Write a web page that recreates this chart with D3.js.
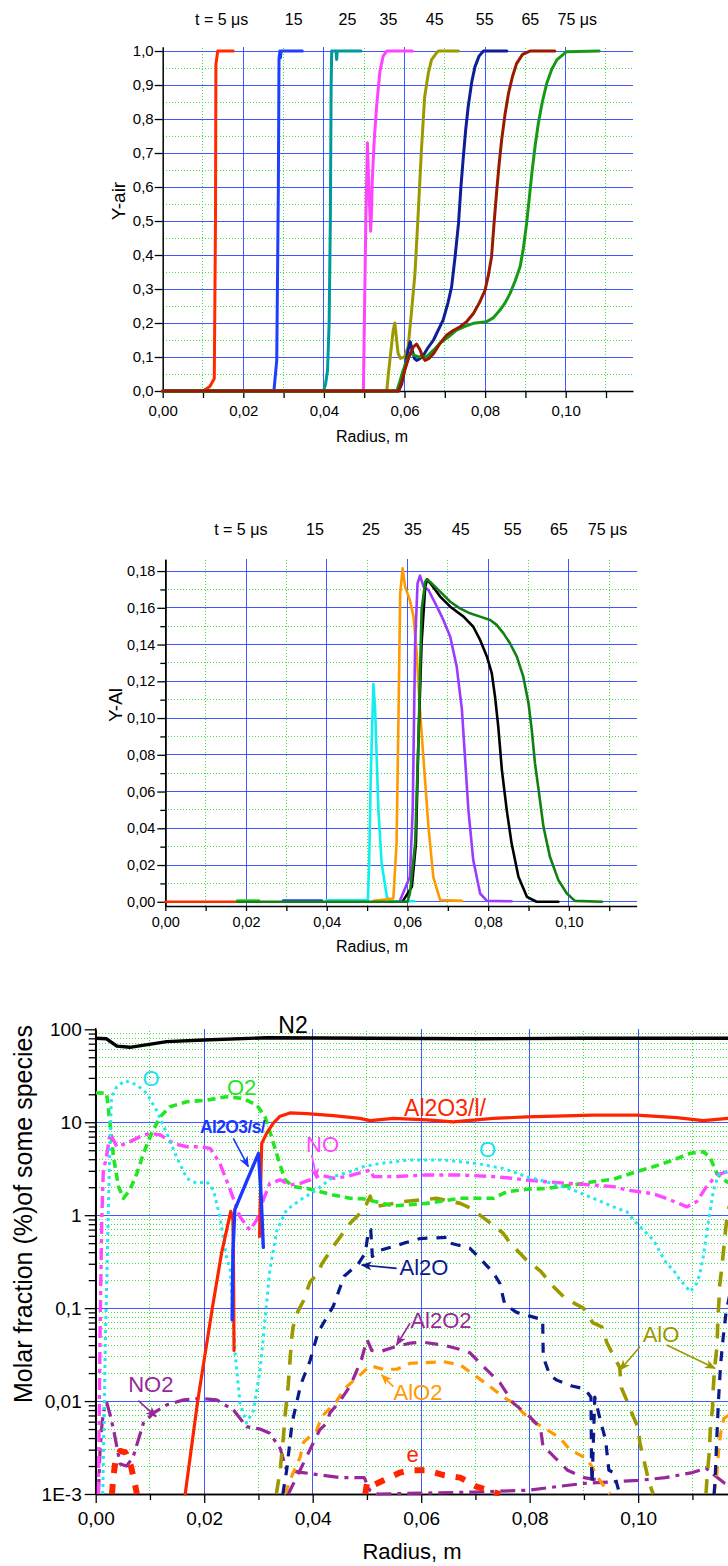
<!DOCTYPE html>
<html>
<head>
<meta charset="utf-8">
<script src="https://cdn.jsdelivr.net/npm/d3@7"></script>
<style>
  html, body { margin: 0; padding: 0; background: #fff; }
  svg { display: block; }
  text { font-family: "Liberation Sans", Arial, Helvetica, sans-serif; }
</style>
</head>
<body>
<script>
// ---------------- data: Y-air profiles at successive instants ----------------
const timeLabels = ["t = 5 μs", "15", "25", "35", "45", "55", "65", "75 μs"];

const air05 = [[0,0],[0.0100,0],[0.0117,0.013],[0.0128,0.037],[0.0131,0.5],[0.0132,0.96],[0.01365,1.0],[0.0175,1.0]];
const air15 = [[0,0],[0.0276,0],[0.0283,0.091],[0.0287,0.6],[0.02886,0.978],[0.0291,1.0],[0.0292,0.98],[0.0294,1.0],[0.03465,1.0]];
const air25 = [[0,0],[0.0399,0],[0.0404,0.02],[0.0409,0.06],[0.0413,0.2],[0.0416,0.5],[0.0418,0.9],[0.04193,1.0],[0.0430,1.0],[0.04317,0.975],[0.0433,1.0],[0.0492,1.0]];
const air35 = [[0,0],[0.0498,0],[0.0500,0.17],[0.0504,0.5],[0.0508,0.73],[0.0512,0.58],[0.0516,0.47],[0.0518,0.52],[0.0520,0.62],[0.0525,0.74],[0.0531,0.84],[0.0539,0.94],[0.0547,0.985],[0.0556,1.0],[0.0620,1.0]];
const air45 = [[0,0],[0.0556,0],[0.0560,0.05],[0.0572,0.179],[0.0576,0.2],[0.0584,0.111],[0.0590,0.096],[0.0600,0.1],[0.0609,0.13],[0.0617,0.228],[0.0626,0.346],[0.0634,0.522],[0.0642,0.708],[0.0650,0.865],[0.0659,0.934],[0.0667,0.974],[0.0680,0.995],[0.0684,1.0],[0.0734,1.0]];
const air55 = [[0,0],[0.0585,0],[0.0593,0.02],[0.0601,0.071],[0.0609,0.12],[0.0614,0.145],[0.0619,0.12],[0.0625,0.095],[0.0630,0.09],[0.0638,0.095],[0.0647,0.105],[0.0657,0.125],[0.0672,0.15],[0.0684,0.18],[0.0696,0.209],[0.0708,0.26],[0.0717,0.307],[0.0726,0.4],[0.0734,0.493],[0.0740,0.6],[0.0746,0.689],[0.0752,0.77],[0.0758,0.836],[0.0767,0.91],[0.0775,0.954],[0.0785,0.985],[0.0796,1.0],[0.0854,1.0]];
const air65 = [[0,0],[0.0585,0],[0.0594,0.03],[0.0601,0.062],[0.0611,0.1],[0.0622,0.13],[0.0630,0.138],[0.0639,0.12],[0.0645,0.1],[0.0651,0.09],[0.0660,0.095],[0.0672,0.11],[0.0688,0.14],[0.0705,0.165],[0.0721,0.178],[0.0738,0.189],[0.0755,0.205],[0.0771,0.228],[0.0786,0.26],[0.0800,0.297],[0.0808,0.34],[0.0816,0.395],[0.0822,0.49],[0.0829,0.591],[0.0835,0.67],[0.0841,0.738],[0.0849,0.81],[0.0858,0.875],[0.0868,0.925],[0.0878,0.963],[0.0893,0.99],[0.0911,1.0],[0.0973,1.0]];
const air75 = [[0,0],[0.0581,0],[0.0589,0.03],[0.0597,0.062],[0.0606,0.09],[0.0614,0.111],[0.0625,0.105],[0.0634,0.101],[0.0655,0.101],[0.0672,0.12],[0.0688,0.14],[0.0710,0.16],[0.0729,0.179],[0.0750,0.19],[0.0771,0.199],[0.0804,0.204],[0.0820,0.215],[0.0837,0.238],[0.0850,0.26],[0.0862,0.287],[0.0875,0.325],[0.0887,0.366],[0.0895,0.42],[0.0903,0.493],[0.0909,0.56],[0.0916,0.64],[0.0924,0.72],[0.0932,0.787],[0.0942,0.85],[0.0953,0.905],[0.0965,0.945],[0.0978,0.974],[0.1002,0.998],[0.1083,1.0]];

// ---------------- data: Y-Al profiles ----------------
const al05 = [[0,0],[0.0178,0]];
const al15 = [[0.0178,0.0007],[0.0232,0.0007]];
const al25 = [[0.0292,0.0007],[0.0388,0.0007]];
const al35 = [[0.0400,0.0008],[0.0502,0.0008],[0.0505,0.02],[0.0509,0.068],[0.05156,0.1185],[0.0520,0.104],[0.0528,0.05],[0.0536,0.021],[0.0549,0.0027],[0.0557,0.0003],[0.0617,0.0003]];
const al45 = [[0.0516,0.0005],[0.0565,0.0018],[0.0573,0.0318],[0.0578,0.1044],[0.0582,0.1679],[0.0588,0.1815],[0.0594,0.1715],[0.0606,0.1642],[0.0615,0.1552],[0.0623,0.1352],[0.0631,0.1044],[0.0640,0.0771],[0.0652,0.0408],[0.0664,0.0136],[0.0681,0.0009],[0.0735,0.0005]];
const al55 = [[0.0582,0.0009],[0.0606,0.0136],[0.0613,0.0499],[0.0619,0.1406],[0.0625,0.1733],[0.0631,0.1775],[0.0640,0.1715],[0.0652,0.1697],[0.0673,0.1606],[0.0689,0.1534],[0.0706,0.1443],[0.0722,0.128],[0.0735,0.1044],[0.0743,0.0771],[0.0751,0.0499],[0.0763,0.0227],[0.0780,0.0045],[0.0797,0.0005],[0.0858,0.0003]];
const al65 = [[0.0590,0.0009],[0.0611,0.0082],[0.0621,0.0318],[0.0627,0.0862],[0.0635,0.1407],[0.0644,0.1715],[0.0649,0.1755],[0.0660,0.1724],[0.0681,0.1661],[0.0706,0.1606],[0.0739,0.1552],[0.0763,0.1497],[0.0780,0.1425],[0.0797,0.1334],[0.0809,0.1243],[0.0817,0.1116],[0.0825,0.0953],[0.0834,0.0717],[0.0846,0.0499],[0.0858,0.0318],[0.0875,0.0136],[0.0896,0.0027],[0.0920,0],[0.0974,0]];
const al75 = [[0.0178,0],[0.0600,0],[0.0606,0.0045],[0.0619,0.0318],[0.0627,0.0862],[0.0635,0.1588],[0.0644,0.1742],[0.0648,0.1755],[0.0660,0.1733],[0.0681,0.1688],[0.0706,0.1633],[0.0730,0.1597],[0.0755,0.157],[0.0780,0.1552],[0.0805,0.1534],[0.0821,0.1507],[0.0838,0.1461],[0.0854,0.1407],[0.0871,0.1334],[0.0887,0.1225],[0.0900,0.108],[0.0908,0.0935],[0.0916,0.0753],[0.0925,0.0608],[0.0937,0.0408],[0.0953,0.0245],[0.0974,0.0118],[0.0995,0.0045],[0.1015,0.0005],[0.1082,0]];

// ---------------- data: molar fractions (%) at 75 μs ----------------
const molN2 = [[0,80],[0.002,79],[0.0039,66],[0.0063,64],[0.0131,73.6],[0.0199,76.8],[0.0315,81],[0.0506,80],[0.0700,79],[0.0900,80],[0.1175,80]];
const molAl2O3l = [[0.0165,0.001],[0.0188,0.01],[0.0215,0.1],[0.0232,0.39],[0.0249,1.1],[0.0253,0.9],[0.0254,0.3],[0.0255,0.035],null,
  [0.0302,0.59],[0.0304,2.0],[0.0306,5.9],[0.0315,7.6],[0.0327,9.7],[0.0339,11.5],[0.0358,12.6],[0.0389,12.4],[0.0438,11.8],[0.0487,11.0],[0.0506,10.4],[0.0549,11.0],[0.0610,10.6],[0.0659,10.1],[0.0733,11.0],[0.0794,11.4],[0.0917,11.9],[0.0997,11.9],[0.1071,11.2],[0.1120,10.4],[0.1165,11.0],[0.1175,11.0]];
const molAl2O3s = [[0.02515,0.075],[0.0253,0.4],[0.02565,1.15],[0.0278,2.3],[0.0300,4.6],[0.0305,1.6],[0.0309,0.45]];
const molO = [[0.0013,0.001],[0.0016,0.01],[0.0018,0.05],[0.0020,0.157],[0.0025,3],[0.0029,18.8],[0.0039,24.1],[0.0054,28],[0.0076,25.2],[0.0094,20.5],[0.0112,13.5],[0.0131,7.6],[0.0149,4.26],[0.0168,2.49],[0.0186,2.2],[0.0205,2.29],[0.0217,1.87],[0.0229,0.96],[0.0241,0.357],[0.0248,0.257],[0.0257,0.0327],[0.0266,0.0095],[0.0278,0.0058],[0.0291,0.008],[0.0303,0.0216],[0.0312,0.0745],[0.0321,0.257],[0.0334,0.69],[0.0352,1.14],[0.0377,1.46],[0.0407,1.87],[0.0438,2.6],[0.0469,2.94],[0.0493,3.32],[0.0524,3.6],[0.0579,3.93],[0.0641,3.93],[0.0702,3.6],[0.0751,3.19],[0.0794,2.6],[0.0831,2.29],[0.0880,1.87],[0.0917,1.52],[0.0954,1.23],[0.0979,1.09],[0.0997,0.818],[0.1028,0.54],[0.1052,0.303],[0.1065,0.257],[0.1077,0.2],[0.1083,0.185],[0.1096,0.15],[0.1108,0.185],[0.1114,0.237],[0.1120,0.357],[0.1129,0.818],[0.1139,1.87],[0.1148,2.71],[0.1163,2.94],[0.1175,3.0]];
const molO2 = [[0,20.8],[0.002,20.5],[0.00265,9.74],[0.00327,4.26],[0.0042,2.03],[0.0051,1.52],[0.0063,1.87],[0.0076,2.82],[0.0088,4.63],[0.0103,7.6],[0.0119,11.5],[0.0137,14.7],[0.0168,16.6],[0.0205,17.3],[0.0241,18.8],[0.0272,18.0],[0.0297,15.3],[0.0312,11.5],[0.0324,7.0],[0.0337,3.93],[0.0349,2.39],[0.0364,2.03],[0.0389,1.94],[0.0414,1.79],[0.0438,1.65],[0.0469,1.52],[0.0493,1.5],[0.0549,1.26],[0.0610,1.34],[0.0672,1.52],[0.0733,1.52],[0.0758,1.79],[0.0794,1.9],[0.0831,1.94],[0.0880,2.11],[0.0917,2.29],[0.0954,2.43],[0.0997,2.94],[0.1028,3.32],[0.1065,3.93],[0.1096,4.63],[0.1120,4.82],[0.1132,4.26],[0.1145,2.82],[0.1163,2.29],[0.1175,2.2]];
const molNO = [[0.0005,0.001],[0.0008,0.05],[0.0011,0.8],[0.0014,3],[0.0020,4.26],[0.00265,7.6],[0.0039,5.45],[0.0057,5.93],[0.0082,7.0],[0.0100,7.6],[0.0119,7.3],[0.0143,5.93],[0.0168,5.45],[0.0192,5.45],[0.0211,5.24],[0.0229,3.6],[0.0248,1.87],[0.0266,0.96],[0.0284,0.69],[0.0297,0.89],[0.0309,1.46],[0.0321,2.2],[0.0340,2.4],[0.0358,2.11],[0.0377,2.2],[0.0395,2.4],[0.0414,2.71],[0.0438,2.5],[0.0463,2.6],[0.0506,3.06],[0.0512,2.6],[0.0549,2.6],[0.0610,2.71],[0.0672,2.71],[0.0733,2.6],[0.0770,2.49],[0.0794,2.39],[0.0831,2.29],[0.0868,2.2],[0.0917,2.11],[0.0954,2.03],[0.0978,1.87],[0.1028,1.7],[0.1059,1.46],[0.1090,1.23],[0.1108,1.4],[0.1126,2.03],[0.1145,2.71],[0.1165,2.94],[0.1175,3.0]];
const molNO2 = [[0.0005,0.001],[0.0008,0.003],[0.0012,0.006],[0.0016,0.0085],[0.0020,0.0098],[0.0027,0.007],[0.0033,0.0049],[0.0045,0.0021],[0.0057,0.002],[0.0069,0.0025],[0.0088,0.0058],[0.0106,0.0074],[0.0131,0.0091],[0.0162,0.0103],[0.0192,0.0107],[0.0223,0.0103],[0.0254,0.008],[0.0278,0.0053],[0.0303,0.005],[0.0321,0.0045],[0.0340,0.0031],[0.0352,0.0018],[0.0382,0.0017],[0.0450,0.0015],[0.0495,0.0015],[0.0505,0.0011],[0.0520,0.001],[0.0600,0.00102],[0.0700,0.00105],[0.0800,0.0011],[0.0850,0.0012],[0.0900,0.0013],[0.0950,0.00135],[0.1000,0.0014],[0.1050,0.0015],[0.1100,0.0017],[0.1125,0.0019],[0.1140,0.0016],[0.1160,0.0013],[0.1175,0.0012]];
const molAl2O = [[0.0345,0.001],[0.0352,0.0018],[0.0362,0.0058],[0.0378,0.015],[0.0395,0.027],[0.0410,0.055],[0.0438,0.105],[0.0458,0.22],[0.0484,0.3],[0.0497,0.39],[0.0503,0.69],[0.0507,0.7],[0.0510,0.36],[0.0525,0.42],[0.0549,0.46],[0.0568,0.5],[0.0598,0.56],[0.0651,0.58],[0.0654,0.5],[0.0690,0.44],[0.0709,0.34],[0.0733,0.24],[0.0745,0.185],[0.0754,0.11],[0.0776,0.09],[0.0824,0.075],[0.0825,0.03],[0.0837,0.019],[0.0850,0.0168],[0.0878,0.0145],[0.0902,0.0135],[0.0913,0.011],[0.0914,0.002],[0.0915,0.0013],[0.0920,0.011],[0.0930,0.0063],[0.0940,0.0038],[0.0946,0.0018],[0.0955,0.0017],[0.0966,0.001],null,
  [0.1140,0.001],[0.1142,0.0015],[0.1145,0.004],[0.1148,0.01],[0.1152,0.025],[0.1157,0.05],[0.1162,0.09],[0.1170,0.15],[0.1175,0.2]];
const molAl2O2 = [[0.0355,0.001],[0.0370,0.0015],[0.0395,0.003],[0.0413,0.0049],[0.0426,0.0058],[0.0432,0.0075],[0.0447,0.0094],[0.0469,0.0145],[0.0490,0.028],[0.0500,0.046],[0.0509,0.035],[0.0524,0.034],[0.0549,0.038],[0.0580,0.042],[0.0604,0.043],[0.0641,0.040],[0.0672,0.036],[0.0690,0.033],[0.0721,0.0216],[0.0745,0.0158],[0.0770,0.0095],[0.0800,0.0068],[0.0820,0.0051],[0.0825,0.0031],[0.0837,0.0028],[0.0870,0.0018],[0.0900,0.0015],[0.0930,0.0014]];
const molAlO = [[0.0333,0.001],[0.0340,0.0018],[0.0346,0.0041],[0.0349,0.0068],[0.0355,0.015],[0.0361,0.046],[0.0364,0.063],[0.0373,0.093],[0.0383,0.12],[0.0395,0.19],[0.0410,0.24],[0.0417,0.3],[0.0438,0.46],[0.0469,0.82],[0.0494,1.14],[0.0506,1.6],[0.0512,1.23],[0.0568,1.4],[0.0628,1.52],[0.0672,1.34],[0.0690,1.2],[0.0720,0.89],[0.0751,0.64],[0.0764,0.5],[0.0794,0.33],[0.0820,0.25],[0.0844,0.17],[0.0865,0.128],[0.0899,0.1],[0.0916,0.07],[0.0933,0.063],[0.0942,0.043],[0.0954,0.031],[0.0966,0.023],[0.0969,0.0139],[0.0978,0.0105],[0.0991,0.0068],[0.1000,0.0052],[0.1003,0.0036],[0.1010,0.0024],[0.1018,0.0015],[0.1025,0.0011],[0.1028,0.001],null,
  [0.1125,0.001],[0.1127,0.0015],[0.1131,0.0028],[0.1133,0.0049],[0.1137,0.0085],[0.1138,0.0125],[0.1140,0.019],[0.1142,0.026],[0.1145,0.037],[0.1146,0.05],[0.1147,0.08],[0.1149,0.12],[0.1150,0.17],[0.1155,0.3],[0.1160,0.6],[0.1165,1.1],[0.1175,1.6]];
const molAlO2 = [[0.0347,0.001],[0.0352,0.0011],[0.0358,0.0014],[0.0377,0.0025],[0.0383,0.0036],[0.0407,0.0048],[0.0417,0.0068],[0.0444,0.01],[0.0460,0.0138],[0.0487,0.019],[0.0506,0.024],[0.0530,0.022],[0.0555,0.022],[0.0580,0.0255],[0.0641,0.0265],[0.0672,0.0245],[0.0702,0.0183],[0.0727,0.0143],[0.0751,0.0111],[0.0770,0.0095],[0.0801,0.0063],[0.0830,0.005],[0.0856,0.004],[0.0874,0.003],[0.0905,0.0024],[0.0914,0.002],[0.0926,0.0015],[0.0942,0.0011],[0.0948,0.001],null,
  [0.1140,0.001],[0.1145,0.0016],[0.1148,0.0028],[0.1152,0.0045],[0.1158,0.0065],[0.1166,0.007],[0.1175,0.0075]];
const molE = [[0.0030,0.001],[0.0032,0.0014],[0.0036,0.0022],[0.0045,0.0029],[0.0055,0.0028],[0.0065,0.002],[0.0072,0.0013],[0.0076,0.001],null,
  [0.0497,0.001],[0.0500,0.0013],[0.0506,0.0012],[0.0530,0.0014],[0.0561,0.0017],[0.0580,0.0018],[0.0610,0.0018],[0.0641,0.0016],[0.0672,0.0015],[0.0702,0.0012],[0.0745,0.001]];

// species labels: [text, radius, molar %]
const speciesLabels = [
  ["N2", 0.03637, 91.2], ["O", 0.01019, 24.5], ["O2", 0.02691, 19.6], ["Al2O3/s/", 0.02522, 7.66],
  ["NO", 0.04181, 4.82], ["Al2O3/l/", 0.06439, 11.7], ["O", 0.07222, 4.26], ["Al2O", 0.06052, 0.227],
  ["Al2O2", 0.06365, 0.0611], ["AlO2", 0.05941, 0.01026], ["AlO", 0.10421, 0.0436], ["NO2", 0.01016, 0.01262],
  ["e", 0.0584, 0.00222]
];
// pointer arrows: [species, from radius, from %, to radius, to %]
const speciesArrows = [
  ["Al2O3/s/", 0.02536, 6.71, 0.02813, 3.33], ["NO", 0.03982, 4.44, 0.04074, 2.49],
  ["Al2O", 0.05548, 0.268, 0.04903, 0.291], ["Al2O2", 0.05794, 0.0687, 0.05548, 0.0401],
  ["AlO2", 0.05486, 0.01429, 0.05272, 0.0191], ["AlO", 0.10033, 0.0385, 0.09665, 0.0216],
  ["AlO", 0.10525, 0.0401, 0.11416, 0.0225], ["NO2", 0.00785, 0.0101, 0.01112, 0.00679]
];

// ---------------- drawing ----------------
const svg = d3.select("body").append("svg").attr("width", 728).attr("height", 1566);
const defs = svg.append("defs");
const comma = spec => v => d3.format(spec)(v).replace(".", ",");
const BLUE = "#1f3cff", GREENGRID = "#3fe23f";

// evenly spaced values start, start+step, ... stop
const seq = (start, stop, step) =>
  d3.range(0, Math.round((stop - start) / step) + 1).map(i => +(start + i * step).toFixed(5));

function drawGrid(g, x, y, xMaj, xMin, yMaj, yMin) {
  const [xa, xb] = x.range(), [ya, yb] = y.range();
  const minor = { stroke: GREENGRID, "stroke-width": 1, "stroke-dasharray": "1,2" };
  const major = { stroke: BLUE, "stroke-width": 1, "stroke-opacity": 0.85 };
  const put = (sel, st) => { for (const k in st) sel.attr(k, st[k]); sel.attr("shape-rendering", "crispEdges"); };
  put(g.append("g").selectAll("line").data(xMin).join("line")
    .attr("x1", d => x(d)).attr("x2", d => x(d)).attr("y1", ya).attr("y2", yb), minor);
  put(g.append("g").selectAll("line").data(yMin).join("line")
    .attr("y1", d => y(d)).attr("y2", d => y(d)).attr("x1", xa).attr("x2", xb), minor);
  put(g.append("g").selectAll("line").data(xMaj).join("line")
    .attr("x1", d => x(d)).attr("x2", d => x(d)).attr("y1", ya).attr("y2", yb), major);
  put(g.append("g").selectAll("line").data(yMaj).join("line")
    .attr("y1", d => y(d)).attr("y2", d => y(d)).attr("x1", xa).attr("x2", xb), major);
}

function styleAxis(g, fontSize) {
  g.select(".domain").attr("stroke", "#000").attr("stroke-width", 1.5);
  g.selectAll(".tick line").attr("stroke", "#000").attr("stroke-width", 1.3);
  g.selectAll(".tick text").attr("font-size", fontSize).attr("fill", "#000")
    .attr("font-family", '"Liberation Sans", Arial, sans-serif');
}

function drawSeries(g, x, y, data, st) {
  const line = d3.line().defined(d => d != null).x(d => x(d[0])).y(d => y(d[1]));
  g.append("path").datum(data).attr("d", line).attr("fill", "none")
    .attr("stroke", st.color).attr("stroke-width", st.width || 3)
    .attr("stroke-linejoin", "round").attr("stroke-linecap", st.dash ? "butt" : "round")
    .attr("stroke-dasharray", st.dash || null);
}

const evenLabel = d => Math.round(d * 100) % 2 ? "" : comma(".2f")(d);

// ===== panel 1 : Y-air =====
{
  const x = d3.scaleLinear().domain([0, 0.1167]).range([162.7, 633]);
  const y = d3.scaleLinear().domain([0, 1.0127]).range([391, 46.7]);
  const g = svg.append("g");
  drawGrid(g, x, y, seq(0.02, 0.10, 0.02), seq(0.01, 0.11, 0.02), seq(0.1, 1.0, 0.1), seq(0.05, 0.95, 0.1));

  const ya = g.append("g").attr("transform", `translate(${x(0)},0)`)
    .call(d3.axisLeft(y).tickValues(seq(0, 1, 0.1)).tickFormat(comma(".1f")).tickSize(8).tickSizeOuter(0).tickPadding(1));
  styleAxis(ya, 15);
  const xa = g.append("g").attr("transform", `translate(0,${y(0)})`)
    .call(d3.axisBottom(x).tickValues(seq(0, 0.11, 0.01)).tickFormat(evenLabel).tickSize(7).tickSizeOuter(0).tickPadding(7));
  styleAxis(xa, 15);

  const series = [air05, air15, air25, air35, air45, air55, air75, air65];
  const colors = ["#ff2a00", "#1f3fff", "#009a9a", "#ff44ff", "#9a9a00", "#0d1e98", "#169a16", "#9a1a00"];
  series.forEach((s, i) => drawSeries(g, x, y, s, { color: colors[i], width: 3 }));

  const headX = [221.7, 293.7, 347.5, 388.5, 434.7, 484.7, 530.3, 577.3];
  g.selectAll("text.head").data(timeLabels).join("text").attr("class", "head")
    .attr("x", (d, i) => headX[i]).attr("y", 25).attr("text-anchor", "middle")
    .attr("font-size", 16).text(d => d);
  g.append("text").attr("transform", "translate(125,201) rotate(-90)").attr("text-anchor", "middle")
    .attr("font-size", 19).text("Y-air");
  g.append("text").attr("x", 372).attr("y", 442).attr("text-anchor", "middle")
    .attr("font-size", 16).text("Radius, m");
}

// ===== panel 2 : Y-Al =====
{
  const x = d3.scaleLinear().domain([0, 0.1168]).range([165.3, 636.7]);
  const y = d3.scaleLinear().domain([-0.0023, 0.1864]).range([906, 559.3]);
  const g = svg.append("g");
  drawGrid(g, x, y, seq(0.02, 0.10, 0.02), seq(0.01, 0.11, 0.02), seq(0.0, 0.18, 0.02), seq(0.01, 0.17, 0.02));

  const yMinor = g.append("g").attr("transform", `translate(${x(0)},0)`)
    .call(d3.axisLeft(y).tickValues(seq(0.01, 0.17, 0.02)).tickFormat("").tickSize(5).tickSizeOuter(0));
  styleAxis(yMinor, 14);
  const ya = g.append("g").attr("transform", `translate(${x(0)},0)`)
    .call(d3.axisLeft(y).tickValues(seq(0, 0.18, 0.02)).tickFormat(comma(".2f")).tickSize(8).tickSizeOuter(0).tickPadding(2));
  styleAxis(ya, 14.5);
  const xa = g.append("g").attr("transform", `translate(0,906)`)
    .call(d3.axisBottom(x).tickValues(seq(0, 0.11, 0.01)).tickFormat(evenLabel).tickSize(5).tickSizeOuter(0).tickPadding(6));
  styleAxis(xa, 14.5);

  const series = [al05, al15, al25, al35, al45, al55, al65, al75];
  const colors = ["#ff2a00", "#22dd22", "#1f3fff", "#11eeee", "#ff9900", "#9a3cff", "#000000", "#138013"];
  series.forEach((s, i) => drawSeries(g, x, y, s, { color: colors[i], width: 2.6 }));

  const headX = [240.8, 315, 371, 413, 460.7, 512.7, 559, 607.5];
  g.selectAll("text.head").data(timeLabels).join("text").attr("class", "head")
    .attr("x", (d, i) => headX[i]).attr("y", 535).attr("text-anchor", "middle")
    .attr("font-size", 16).text(d => d);
  g.append("text").attr("transform", "translate(122,705) rotate(-90)").attr("text-anchor", "middle")
    .attr("font-size", 19).text("Y-Al");
  g.append("text").attr("x", 372).attr("y", 952).attr("text-anchor", "middle")
    .attr("font-size", 16).text("Radius, m");
}

// ===== panel 3 : molar fractions =====
{
  const x = d3.scaleLinear().domain([0, 0.1175]).range([95.7, 733.1]);
  const y = d3.scaleLog().domain([1e-3, 100]).range([1494, 1029.3]);
  const g = svg.append("g");
  const decades = [1e-3, 1e-2, 1e-1, 1, 10, 100];
  const minorLog = [];
  decades.slice(0, 5).forEach(d => { for (let k = 2; k <= 9; k++) minorLog.push(+(d * k).toPrecision(3)); });
  drawGrid(g, x, y, seq(0.02, 0.10, 0.02), seq(0.01, 0.11, 0.02), decades.slice(1, 5), minorLog);

  defs.append("clipPath").attr("id", "plot3")
    .append("rect").attr("x", 95.7).attr("y", 1020).attr("width", 640).attr("height", 476);

  const yMinor = g.append("g").attr("transform", `translate(${x(0)},0)`)
    .call(d3.axisLeft(y).tickValues(minorLog).tickFormat("").tickSize(7).tickSizeOuter(0));
  styleAxis(yMinor, 19);
  const logLabels = { 0.001: "1E-3", 0.01: "0,01", 0.1: "0,1", 1: "1", 10: "10", 100: "100" };
  const ya = g.append("g").attr("transform", `translate(${x(0)},0)`)
    .call(d3.axisLeft(y).tickValues(decades).tickFormat(d => logLabels[d]).tickSize(11).tickSizeOuter(0).tickPadding(3));
  styleAxis(ya, 19);
  ya.select(".domain").attr("d", `M0,${y(1e-3)}V1028`);

  const xMinor = g.append("g").attr("transform", `translate(0,${y(1e-3)})`)
    .call(d3.axisBottom(x).tickValues(seq(0.01, 0.11, 0.02)).tickFormat("").tickSize(6).tickSizeOuter(0));
  styleAxis(xMinor, 19);
  const xa = g.append("g").attr("transform", `translate(0,${y(1e-3)})`)
    .call(d3.axisBottom(x).tickValues(seq(0, 0.10, 0.02)).tickFormat(comma(".2f")).tickSize(9).tickSizeOuter(0).tickPadding(9));
  styleAxis(xa, 19);

  const pg = g.append("g").attr("clip-path", "url(#plot3)");
  const COL = {
    N2: "#000000", Al2O3l: "#ff2400", Al2O3s: "#1a38ff", O: "#22e8f0", O2: "#22e622",
    NO: "#ff48ff", NO2: "#98289a", Al2O: "#0a1a8c", Al2O2: "#98289a", AlO: "#9a9a00", AlO2: "#ff9a00", e: "#ff2400"
  };
  drawSeries(pg, x, y, molNO2, { color: COL.NO2, width: 3.2, dash: "15,6,4,6" });
  drawSeries(pg, x, y, molE, { color: COL.e, width: 6, dash: "10,11" });
  drawSeries(pg, x, y, molAlO2, { color: COL.AlO2, width: 3.2, dash: "10,8" });
  drawSeries(pg, x, y, molAl2O2, { color: COL.Al2O2, width: 3.2, dash: "13,9" });
  drawSeries(pg, x, y, molAl2O, { color: COL.Al2O, width: 3.2, dash: "10,9" });
  drawSeries(pg, x, y, molAlO, { color: COL.AlO, width: 3.6, dash: "15,11" });
  drawSeries(pg, x, y, molO2, { color: COL.O2, width: 3.6, dash: "8,5" });
  drawSeries(pg, x, y, molNO, { color: COL.NO, width: 3.4, dash: "12,5,4,5" });
  drawSeries(pg, x, y, molO, { color: COL.O, width: 3, dash: "3,4" });
  drawSeries(pg, x, y, molAl2O3l, { color: COL.Al2O3l, width: 3.2 });
  drawSeries(pg, x, y, molAl2O3s, { color: COL.Al2O3s, width: 3.4 });
  drawSeries(pg, x, y, molN2, { color: COL.N2, width: 3.4 });

  const labelColor = {
    "N2": COL.N2, "O": "#22e0f0", "O2": COL.O2, "Al2O3/s/": COL.Al2O3s, "NO": COL.NO, "Al2O3/l/": COL.Al2O3l,
    "Al2O": COL.Al2O, "Al2O2": COL.Al2O2, "AlO2": COL.AlO2, "AlO": COL.AlO, "NO2": COL.NO2, "e": COL.e
  };
  const labelSize = { "N2": 23, "Al2O3/s/": 17.5, "Al2O3/l/": 23 };

  const markerId = name => "arrow-" + name.replace(/[^A-Za-z0-9]/g, "");
  [...new Set(speciesArrows.map(a => a[0]))].forEach(name => {
    defs.append("marker").attr("id", markerId(name)).attr("markerUnits", "userSpaceOnUse")
      .attr("markerWidth", 11).attr("markerHeight", 9).attr("refX", 10).attr("refY", 4.5).attr("orient", "auto")
      .append("path").attr("d", "M0,0L11,4.5L0,9L3,4.5Z").attr("fill", labelColor[name]);
  });
  g.append("g").selectAll("line").data(speciesArrows).join("line")
    .attr("x1", d => x(d[1])).attr("y1", d => y(d[2])).attr("x2", d => x(d[3])).attr("y2", d => y(d[4]))
    .attr("stroke", d => labelColor[d[0]]).attr("stroke-width", 1.6)
    .attr("marker-end", d => `url(#${markerId(d[0])})`);

  g.append("g").selectAll("text").data(speciesLabels).join("text")
    .attr("x", d => x(d[1])).attr("y", d => y(d[2])).attr("text-anchor", "middle")
    .attr("font-size", d => labelSize[d[0]] || 22)
    .attr("font-weight", d => d[0] === "Al2O3/s/" ? "bold" : null)
    .attr("letter-spacing", d => d[0] === "Al2O3/s/" ? -0.6 : null)
    .attr("fill", d => labelColor[d[0]]).text(d => d[0]);

  g.append("text").attr("transform", "translate(32,1214) rotate(-90)").attr("text-anchor", "middle")
    .attr("font-size", 25).text("Molar fraction (%)of some species");
  g.append("text").attr("x", 412).attr("y", 1559).attr("text-anchor", "middle")
    .attr("font-size", 22).text("Radius, m");
}
</script>
</body>
</html>
